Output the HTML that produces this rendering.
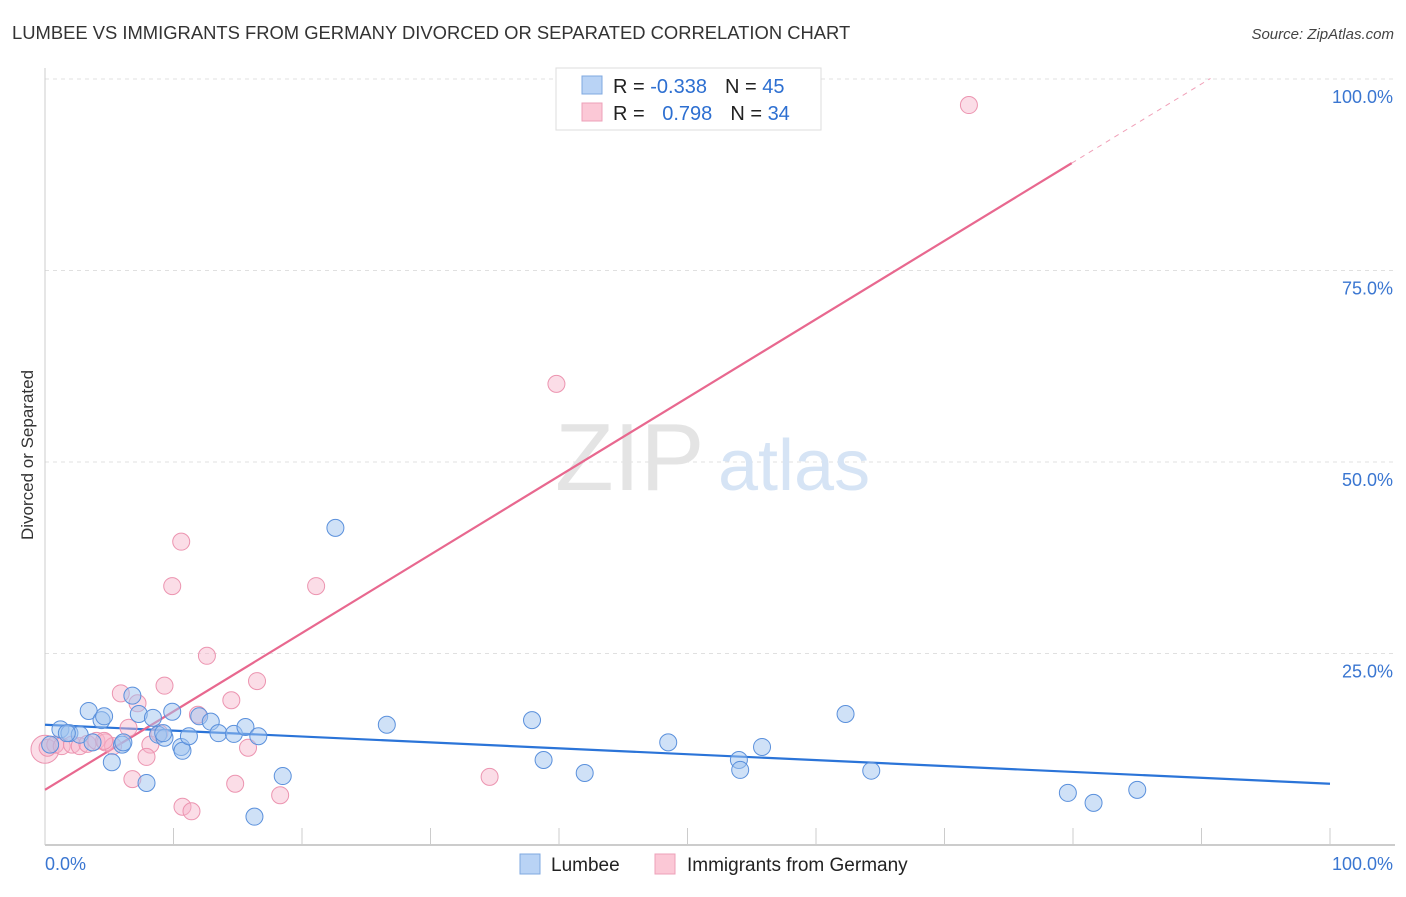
<!DOCTYPE html>
<html><head><meta charset="utf-8"><style>
body{margin:0;background:#fff;font-family:"Liberation Sans",sans-serif}
svg text{font-family:"Liberation Sans",sans-serif}
</style></head><body>
<svg id="chart" width="1406" height="892" xmlns="http://www.w3.org/2000/svg">
<text x="12" y="39" font-size="18.4" fill="#333">LUMBEE VS IMMIGRANTS FROM GERMANY DIVORCED OR SEPARATED CORRELATION CHART</text>
<text x="1394" y="39" font-size="15" fill="#444" text-anchor="end" font-style="italic">Source: ZipAtlas.com</text>
<text transform="translate(33,455) rotate(-90)" font-size="17" fill="#333" text-anchor="middle">Divorced or Separated</text>
<g id="grid"></g>
<g><text x="555" y="490" font-size="96" fill="#e4e4e4" font-family="Liberation Serif,serif">ZIP</text><text x="718" y="490" font-size="72" fill="#d6e4f5">atlas</text></g>
<g id="trend"></g>
<g id="pts"></g>
<g>
<rect x="556" y="68" width="265" height="62" fill="#fff" stroke="#ddd"/>
<rect x="582" y="76" width="20" height="18" fill="#b9d3f5" stroke="#7fa8e0"/>
<rect x="582" y="103" width="20" height="18" fill="#fbc8d6" stroke="#eea0b8"/>
<text x="613" y="93" font-size="20" fill="#222">R = <tspan fill="#2d6fd1">-0.338</tspan><tspan dx="18" fill="#222">N = </tspan><tspan fill="#2d6fd1">45</tspan></text>
<text x="613" y="120" font-size="20" fill="#222">R = <tspan dx="12" fill="#2d6fd1">0.798</tspan><tspan dx="18" fill="#222">N = </tspan><tspan fill="#2d6fd1">34</tspan></text>
</g>
<g>
<rect x="520" y="854" width="20" height="20" fill="#b9d3f5" stroke="#7fa8e0"/>
<text x="551" y="871" font-size="19" fill="#222">Lumbee</text>
<rect x="655" y="854" width="20" height="20" fill="#fbc8d6" stroke="#eea0b8"/>
<text x="687" y="871" font-size="19" fill="#222">Immigrants from Germany</text>
</g>
</svg>
<script>
const blueX=[0.4,1.2,1.9,2.7,3.4,4.4,4.6,3.7,5.2,6.0,6.1,6.8,7.3,8.4,8.8,9.3,9.9,10.6,10.7,11.2,12.0,12.9,13.5,14.7,15.6,16.6,9.2,7.9,16.3,18.5,22.6,26.6,37.9,38.8,42.0,48.5,54.0,54.1,55.8,62.3,64.3,79.6,81.6,85.0,1.7];
const blueY=[13.1,15.1,14.6,14.4,17.5,16.3,16.8,13.4,10.8,13.1,13.4,19.5,17.1,16.6,14.4,14.0,17.4,12.8,12.3,14.2,16.8,16.1,14.6,14.5,15.4,14.2,14.6,8.1,3.7,9.0,41.4,15.7,16.3,11.1,9.4,13.4,11.1,9.8,12.8,17.1,9.7,6.8,5.5,7.2,14.6];
const pinkX=[0,0.2,0.8,1.3,2.1,2.7,3.3,4.0,4.7,5.3,5.9,6.5,7.2,8.2,7.9,9.3,9.9,10.6,10.7,11.4,11.9,12.6,14.5,14.8,15.8,16.5,18.3,21.1,34.6,39.8,71.9,6.8,4.6,8.9];
const pinkY=[12.5,12.7,13.1,12.9,13.1,12.9,13.2,13.6,13.4,12.9,19.8,15.3,18.5,13.1,11.5,20.8,33.8,39.6,5.0,4.4,17.0,24.7,18.9,8.0,12.7,21.4,6.5,33.8,8.9,60.2,96.6,8.6,13.6,14.6];
const blueTrend=[15.7,8.0];
const pinkTrend=[7.2,1.024];
const yTicks=[25,50,75,100];
const xTicks=[0,10,20,30,40,50,60,70,80,90,100];
const X=v=>45+v*12.85, Y=v=>845-v*7.66;
const NS="http://www.w3.org/2000/svg";
function mk(tag,attrs,parent){const e=document.createElementNS(NS,tag);for(const k in attrs)e.setAttribute(k,attrs[k]);parent.appendChild(e);return e;}
const grid=document.getElementById('grid');
yTicks.forEach(t=>{
 const l=mk('line',{x1:45,x2:1395,y1:Y(t),y2:Y(t),stroke:'#e0e0e0','stroke-dasharray':'4,4'},grid);
 
 
 const tx=mk('text',{x:1393,y:Y(t)+24,'font-size':18,fill:'#3a76d1','text-anchor':'end'},grid);
 tx.textContent=t.toFixed(1)+'%';
 
 
});
const ax=mk('line',{x1:45,x2:1395,y1:845,y2:845,stroke:'#bbb','stroke-width':1.5},grid);


const ay=mk('line',{x1:45,x2:45,y1:68,y2:845,stroke:'#ccc'},grid);


xTicks.forEach(t=>{
 const l=mk('line',{x1:X(t),x2:X(t),y1:828,y2:845,stroke:'#ccc'},grid);
 
 
});
[[0,'0.0%','start',45],[100,'100.0%','end',1393]].forEach(a=>{
 const tx=mk('text',{x:a[3],y:870,'font-size':18,fill:'#3a76d1','text-anchor':a[2]},grid);
 tx.textContent=a[1];
 
 
});
const tr=document.getElementById('trend');
const bl=mk('line',{x1:X(0),y1:Y(blueTrend[0]),x2:X(100),y2:Y(blueTrend[1]),stroke:'#2b74d8','stroke-width':2.2},tr);


const pf=x=>pinkTrend[0]+pinkTrend[1]*x;
const pl=mk('line',{x1:X(0),y1:Y(pf(0)),x2:X(79.9),y2:Y(pf(79.9)),stroke:'#e8688f','stroke-width':2.2},tr);


const pd=mk('line',{x1:X(79.9),y1:Y(pf(79.9)),x2:X(90.7),y2:Y(pf(90.7)),stroke:'#f0a0b8','stroke-width':1,'stroke-dasharray':'5,5'},tr);


const pts=document.getElementById('pts');
pinkX.forEach((x,i)=>{
 const c=mk('circle',{cx:X(x),cy:Y(pinkY[i]),r:i===0?14:8.5,fill:'rgba(247,180,202,0.45)',stroke:'#ec94b0','stroke-width':1},pts);
 
 
});
blueX.forEach((x,i)=>{
 const c=mk('circle',{cx:X(x),cy:Y(blueY[i]),r:8.5,fill:'rgba(160,196,240,0.5)',stroke:'#5a90dc','stroke-width':1},pts);
 
 
});
</script>
</body></html>
